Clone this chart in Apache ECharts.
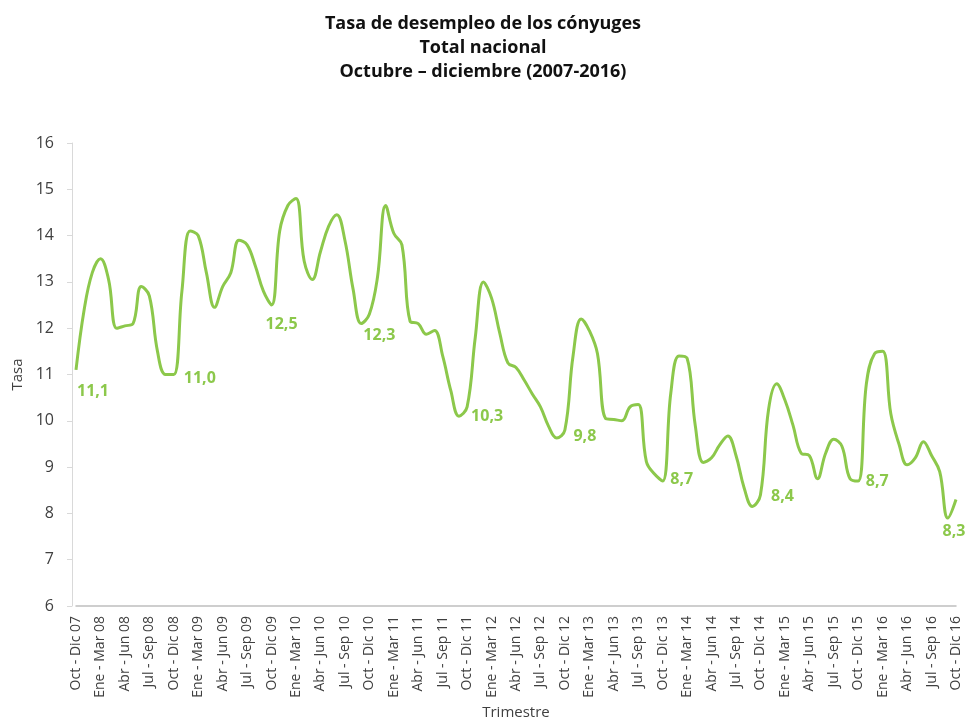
<!DOCTYPE html>
<html>
<head>
<meta charset="utf-8">
<script src="https://cdn.jsdelivr.net/npm/echarts@6/dist/echarts.min.js"></script>
<style>
html,body{margin:0;padding:0;background:#fff;}
#chart{width:966px;height:719px;}
</style>
</head>
<body>
<div id="chart"></div>
<script>
const titleLines = ['Tasa de desempleo de los cónyuges', 'Total nacional', 'Octubre – diciembre (2007-2016)'];
const yAxisName = 'Tasa';
const xAxisName = 'Trimestre';
const yTicks = { min: 6, max: 16, interval: 1 };

const categories = [
  'Oct - Dic 07',
  'Nov - Ene 08','Dic - Feb 08','Ene - Mar 08','Feb - Abr 08','Mar - May 08','Abr - Jun 08','May - Jul 08','Jun - Ago 08','Jul - Sep 08','Ago - Oct 08','Sep - Nov 08','Oct - Dic 08',
  'Nov - Ene 09','Dic - Feb 09','Ene - Mar 09','Feb - Abr 09','Mar - May 09','Abr - Jun 09','May - Jul 09','Jun - Ago 09','Jul - Sep 09','Ago - Oct 09','Sep - Nov 09','Oct - Dic 09',
  'Nov - Ene 10','Dic - Feb 10','Ene - Mar 10','Feb - Abr 10','Mar - May 10','Abr - Jun 10','May - Jul 10','Jun - Ago 10','Jul - Sep 10','Ago - Oct 10','Sep - Nov 10','Oct - Dic 10',
  'Nov - Ene 11','Dic - Feb 11','Ene - Mar 11','Feb - Abr 11','Mar - May 11','Abr - Jun 11','May - Jul 11','Jun - Ago 11','Jul - Sep 11','Ago - Oct 11','Sep - Nov 11','Oct - Dic 11',
  'Nov - Ene 12','Dic - Feb 12','Ene - Mar 12','Feb - Abr 12','Mar - May 12','Abr - Jun 12','May - Jul 12','Jun - Ago 12','Jul - Sep 12','Ago - Oct 12','Sep - Nov 12','Oct - Dic 12',
  'Nov - Ene 13','Dic - Feb 13','Ene - Mar 13','Feb - Abr 13','Mar - May 13','Abr - Jun 13','May - Jul 13','Jun - Ago 13','Jul - Sep 13','Ago - Oct 13','Sep - Nov 13','Oct - Dic 13',
  'Nov - Ene 14','Dic - Feb 14','Ene - Mar 14','Feb - Abr 14','Mar - May 14','Abr - Jun 14','May - Jul 14','Jun - Ago 14','Jul - Sep 14','Ago - Oct 14','Sep - Nov 14','Oct - Dic 14',
  'Nov - Ene 15','Dic - Feb 15','Ene - Mar 15','Feb - Abr 15','Mar - May 15','Abr - Jun 15','May - Jul 15','Jun - Ago 15','Jul - Sep 15','Ago - Oct 15','Sep - Nov 15','Oct - Dic 15',
  'Nov - Ene 16','Dic - Feb 16','Ene - Mar 16','Feb - Abr 16','Mar - May 16','Abr - Jun 16','May - Jul 16','Jun - Ago 16','Jul - Sep 16','Ago - Oct 16','Sep - Nov 16','Oct - Dic 16'
];

const tasa = [
  11.1,
  12.4, 13.2, 13.5, 13.05, 12.0, 12.05, 12.1, 12.9, 12.7, 11.5, 11.0, 11.0,
  12.8, 14.1, 14.0, 13.2, 12.45, 12.9, 13.2, 13.9, 13.8, 13.35, 12.8, 12.5,
  14.1, 14.65, 14.8, 13.45, 13.05, 13.65, 14.2, 14.45, 13.9, 12.85, 12.1, 12.3,
  13.1, 14.65, 14.05, 13.8, 12.15, 12.1, 11.87, 11.95, 11.4, 10.65, 10.1, 10.3,
  11.8, 13.0, 12.65, 11.9, 11.25, 11.15, 10.88, 10.58, 10.3, 9.88, 9.63, 9.8,
  11.4, 12.2, 11.95, 11.45, 10.05, 10.03, 10.0, 10.3, 10.35, 9.12, 8.85, 8.7,
  10.6, 11.4, 11.35, 9.9, 9.1, 9.2, 9.48, 9.67, 9.25, 8.55, 8.15, 8.4,
  10.25, 10.8, 10.45, 9.9, 9.3, 9.25, 8.75, 9.3, 9.6, 9.45, 8.75, 8.7,
  10.8, 11.45, 11.5, 10.15, 9.5, 9.05, 9.2, 9.55, 9.25, 8.9, 7.9, 8.3
];

// indexes of the Oct - Dic points that carry a value label
const labeledIdx = [0, 12, 24, 36, 48, 60, 72, 84, 96, 108];
// label offsets (style only) relative to the point
const labelOffsets = {
  0: [17, 22], 12: [26, 4], 24: [10, 19], 36: [10, 21], 48: [20, 10],
  60: [20, 6], 72: [19, -2], 84: [22, 2], 96: [19, 0], 108: [-2, 32]
};

const GREEN = '#8CC84B';
const FONT = 'Open Sans';

const seriesData = tasa.map((v, i) => {
  if (labeledIdx.indexOf(i) >= 0) {
    return {
      value: v,
      label: {
        show: true,
        position: 'inside',
        offset: labelOffsets[i],
        formatter: v.toFixed(1).replace('.', ','),
        color: GREEN,
        fontFamily: FONT,
        fontWeight: 'bold',
        fontSize: 16
      }
    };
  }
  return v;
});

const chart = echarts.init(document.getElementById('chart'));
chart.setOption({
  animation: false,
  backgroundColor: '#ffffff',
  title: {
    text: titleLines.join('\n'),
    left: 'center',
    top: 7,
    textStyle: {
      fontFamily: FONT,
      fontWeight: 'bold',
      fontSize: 18,
      lineHeight: 24,
      color: '#111111'
    }
  },
  grid: { left: 76, right: 10, top: 143, bottom: 113, containLabel: false, outerBoundsMode: 'none' },
  xAxis: {
    type: 'category',
    data: categories,
    boundaryGap: false,
    name: xAxisName,
    nameLocation: 'middle',
    nameGap: 99,
    nameTextStyle: { fontFamily: FONT, fontSize: 15, color: '#404040' },
    axisLine: { show: true, lineStyle: { color: '#BFBFBF', width: 1.5 } },
    axisTick: { show: false },
    axisLabel: {
      interval: 2,
      rotate: 90,
      margin: 10,
      fontFamily: FONT,
      fontSize: 14,
      color: '#404040'
    },
    splitLine: { show: false }
  },
  yAxis: {
    type: 'value',
    min: yTicks.min,
    max: yTicks.max,
    interval: yTicks.interval,
    offset: 4,
    name: yAxisName,
    nameLocation: 'middle',
    nameGap: 46,
    nameTextStyle: { fontFamily: FONT, fontSize: 15, color: '#404040' },
    axisLine: { show: true, lineStyle: { color: '#D9D9D9', width: 1 } },
    axisTick: { show: true, length: 5, lineStyle: { color: '#D9D9D9' } },
    axisLabel: { margin: 18, fontFamily: FONT, fontSize: 16, color: '#404040' },
    splitLine: { show: false }
  },
  series: [{
    type: 'line',
    data: seriesData,
    smooth: 0.4,
    symbol: 'circle',
    symbolSize: 1,
    showSymbol: true,
    showAllSymbol: true,
    itemStyle: { color: 'rgba(0,0,0,0)' },
    lineStyle: { color: GREEN, width: 3 },
    silent: true,
    emphasis: { disabled: true },
    z: 3
  }]
});
</script>
</body>
</html>
